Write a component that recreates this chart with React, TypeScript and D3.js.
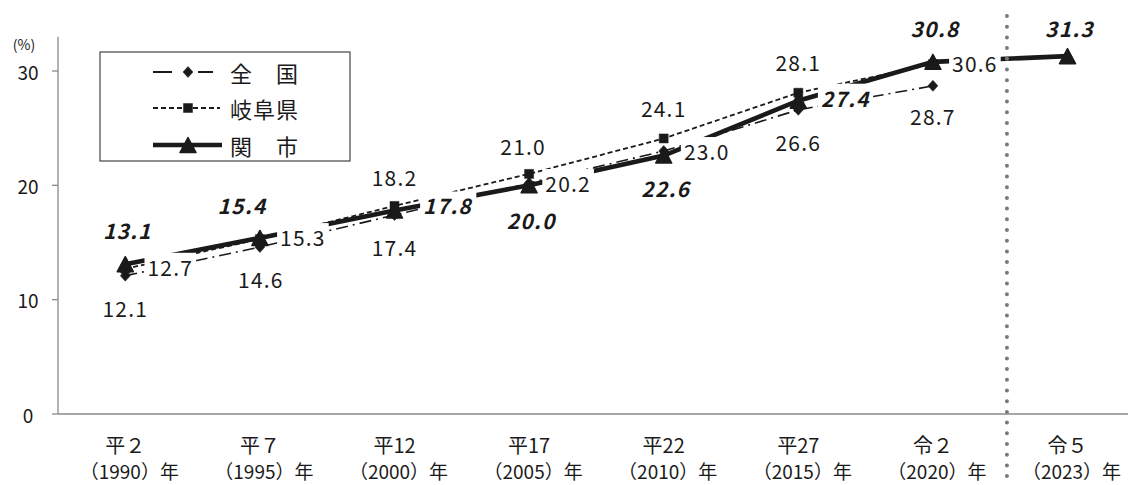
import React, { useEffect, useRef } from "react";
import * as d3 from "d3";

// ---- data ----
const categories = ["平２", "平７", "平12", "平17", "平22", "平27", "令２", "令５"];
const yearLabels = ["（1990）年", "（1995）年", "（2000）年", "（2005）年", "（2010）年", "（2015）年", "（2020）年", "（2023）年"];
const nationalValues = [12.1, 14.6, 17.4, 20.2, 23.0, 26.6, 28.7];
const gifuValues = [12.7, 15.3, 18.2, 21.0, 24.1, 28.1, 30.6];
const sekiValues = [13.1, 15.4, 17.8, 20.0, 22.6, 27.4, 30.8, 31.3];
const yTicks = [0, 10, 20, 30];
const seriesNames = ["全　国", "岐阜県", "関　市"];

// ---- label placement (layout, offsets from point) ----
const nationalLabelOffsets = [[0, 32], [1, 32], [0, 32], [39, 0], [43, 0], [0, 32], [0, 30]];
const gifuLabelOffsets = [[45, -2], [43, -2], [0, -29], [-6, -28], [0, -30], [0, -31], [42, -1]];
const sekiLabelOffsets = [[2, -34], [-18, -33], [53, -5], [2, 35], [2, 32], [47, -3], [2, -34], [2, -28]];

const W = 1128;
const H = 485;
const FONT = "'Noto Sans CJK JP', 'Noto Sans', sans-serif";
const INK = "#1a1a1a";

export default function App() {
  const ref = useRef<SVGSVGElement | null>(null);

  useEffect(() => {
    const svg = d3.select(ref.current);
    svg.selectAll("*").remove();

    const left = 58;
    const step = 134.6;
    const x = d3.scaleBand<string>().domain(categories).range([left, left + step * categories.length]).padding(0);
    const cx = (i: number) => (x(categories[i]) as number) + x.bandwidth() / 2;
    const y = d3.scaleLinear().domain([0, 30]).range([414, 71]);

    // axes
    const axisColor = "#8a8a8a";
    svg.append("line").attr("x1", left).attr("x2", W).attr("y1", y(0)).attr("y2", y(0))
      .attr("stroke", axisColor).attr("stroke-width", 1.3);
    svg.append("line").attr("x1", left).attr("x2", left).attr("y1", y(0)).attr("y2", y(33))
      .attr("stroke", axisColor).attr("stroke-width", 1.3);
    yTicks.forEach((t) => {
      svg.append("line").attr("x1", left - 6).attr("x2", left).attr("y1", y(t)).attr("y2", y(t))
        .attr("stroke", axisColor).attr("stroke-width", 1.3);
      svg.append("text").attr("x", 28).attr("y", y(t)).attr("text-anchor", "middle")
        .attr("dominant-baseline", "central").attr("font-family", FONT).attr("font-size", 19)
        .attr("fill", INK).text(String(t));
    });
    svg.append("text").attr("x", 24).attr("y", 44).attr("text-anchor", "middle")
      .attr("dominant-baseline", "central").attr("font-family", FONT).attr("font-size", 14)
      .attr("fill", INK).text("(%)");

    // category labels
    categories.forEach((c, i) => {
      svg.append("text").attr("x", cx(i)).attr("y", 444).attr("text-anchor", "middle")
        .attr("dominant-baseline", "central").attr("font-family", FONT).attr("font-size", 20)
        .attr("fill", INK).text(c);
      svg.append("text").attr("x", cx(i) + 4).attr("y", 470).attr("text-anchor", "middle")
        .attr("dominant-baseline", "central").attr("font-family", FONT).attr("font-size", 19)
        .attr("fill", INK).text(yearLabels[i]);
    });

    // lines
    const line = d3.line<number>().x((_, i) => cx(i)).y((d) => y(d));
    svg.append("path").attr("d", line(nationalValues)).attr("fill", "none").attr("stroke", INK)
      .attr("stroke-width", 1.6).attr("stroke-dasharray", "12 5 2 5");
    svg.append("path").attr("d", line(gifuValues)).attr("fill", "none").attr("stroke", INK)
      .attr("stroke-width", 1.8).attr("stroke-dasharray", "5 3");
    svg.append("path").attr("d", line(sekiValues)).attr("fill", "none").attr("stroke", INK)
      .attr("stroke-width", 4.6);

    // markers
    const diamond = "M0,-5.5L5,0L0,5.5L-5,0Z";
    const square = "M-4.5,-4.5H4.5V4.5H-4.5Z";
    const triangle = "M0,-7.5L8,7.5L-8,7.5Z";
    const drawMarkers = (vals: number[], d: string, sw: number) => {
      vals.forEach((v, i) => {
        svg.append("path").attr("d", d).attr("transform", `translate(${cx(i)},${y(v)})`)
          .attr("fill", INK).attr("stroke", INK).attr("stroke-width", sw).attr("stroke-linejoin", "round");
      });
    };
    drawMarkers(nationalValues, diamond, 0.5);
    drawMarkers(gifuValues, square, 0.5);
    drawMarkers(sekiValues, triangle, 1.5);

    // data labels with white boxes
    const drawLabels = (vals: number[], offs: number[][], bold: boolean) => {
      vals.forEach((v, i) => {
        const g = svg.append("g");
        const t = g.append("text").attr("x", cx(i) + offs[i][0]).attr("y", y(v) + offs[i][1])
          .attr("text-anchor", "middle").attr("dominant-baseline", "central")
          .attr("font-family", FONT).attr("font-size", 21).attr("letter-spacing", 1.2)
          .attr("font-weight", bold ? 700 : 400).attr("font-style", bold ? "italic" : "normal")
          .attr("fill", INK).text(v.toFixed(1));
        const bb = (t.node() as SVGTextElement).getBBox();
        g.insert("rect", "text").attr("x", bb.x - 3).attr("y", bb.y + 1).attr("width", bb.width + 6)
          .attr("height", bb.height - 2).attr("fill", "#fff");
      });
    };
    drawLabels(nationalValues, nationalLabelOffsets, false);
    drawLabels(gifuValues, gifuLabelOffsets, false);
    drawLabels(sekiValues, sekiLabelOffsets, true);

    // dotted divider between 令２ and 令５
    const dx = cx(6) + x.step() * 0.55;
    svg.append("line").attr("x1", dx).attr("x2", dx).attr("y1", 16).attr("y2", H)
      .attr("stroke", "#7a7a7a").attr("stroke-width", 4).attr("stroke-linecap", "round")
      .attr("stroke-dasharray", "0 10.7");

    // legend
    const lg = svg.append("g");
    lg.append("rect").attr("x", 100).attr("y", 52).attr("width", 250).attr("height", 109)
      .attr("fill", "#fff").attr("stroke", "#444").attr("stroke-width", 1.2);
    const rows = [72, 108, 145];
    const styles = [
      { dash: "19 26", sw: 1.8, x2: 213, m: diamond, msw: 0.5 },
      { dash: "5 3", sw: 1.8, x2: 220, m: square, msw: 0.5 },
      { dash: null, sw: 4.6, x2: 222, m: triangle, msw: 1.5 },
    ];
    seriesNames.forEach((n, i) => {
      const s = styles[i];
      const ln = lg.append("line").attr("x1", 153).attr("x2", s.x2).attr("y1", rows[i]).attr("y2", rows[i])
        .attr("stroke", INK).attr("stroke-width", s.sw);
      if (s.dash) ln.attr("stroke-dasharray", s.dash);
      lg.append("path").attr("d", s.m).attr("transform", `translate(188,${rows[i]})`)
        .attr("fill", INK).attr("stroke", INK).attr("stroke-width", s.msw).attr("stroke-linejoin", "round");
      lg.append("text").attr("x", 230).attr("y", rows[i]).attr("dominant-baseline", "central")
        .attr("font-family", FONT).attr("font-size", 22).attr("letter-spacing", 1).attr("fill", INK).text(n);
    });
  }, []);

  return (
    <svg ref={ref} width={W} height={H} style={{ position: "absolute", left: 0, top: 0, background: "#fff" }} />
  );
}
